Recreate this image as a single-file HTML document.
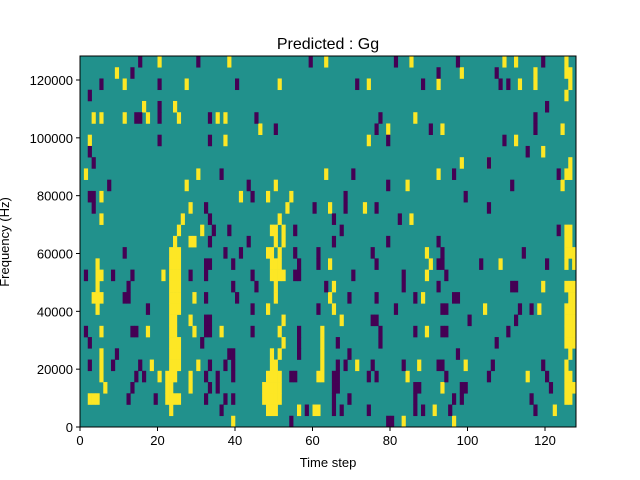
<!DOCTYPE html>
<html><head><meta charset="utf-8"><style>
body{margin:0;background:#fff;}
svg{display:block;font-family:"Liberation Sans","DejaVu Sans",sans-serif;}
</style></head><body>
<svg id="chart" width="640" height="480" viewBox="0 0 640 480" xmlns="http://www.w3.org/2000/svg">
<rect x="0" y="0" width="640" height="480" fill="#fff"/>
<g id="cells"></g>
<g id="axes"></g>
<text x="328" y="49" font-size="16" text-anchor="middle">Predicted : Gg</text>
<text x="328" y="467" font-size="13" text-anchor="middle">Time step</text>
<text x="0" y="0" font-size="13" text-anchor="middle" transform="translate(9,242) rotate(-90)">Frequency (Hz)</text>
</svg>
<script>
const nCols = 128;
const nRows = 33;
const yMax = 128300;
const xTicks = [0,20,40,60,80,100,120];
const yTicks = [0,20000,40000,60000,80000,100000,120000];
// rows indexed from top (row 0 = highest frequency)
const yellowByRow = [
[20,38,63,85,109,112,125],[9,98,117,125,126],[11,27,51,74,92,113,117,126],[125],[16,24],
[3,5,11,17,25,35,37,86],[46,79,93,124],[2,37,74,112],[119],[98,105,126],
[1,30,63,92,125,126],[27,50,84,124],[5,41,48,54],[28,53,64,73],[5,26,51,85],
[25,31,49,50,52,125,126],[24,28,29,50,52,125,126],[23,24,25,48,49,51,89,125,126,127],[4,23,24,25,49,50,51,64,90,108,125,127],[4,5,21,23,24,25,49,50,51,52,89],
[4,23,24,25,50,65,119,125,126,127],[3,4,5,23,24,25,29,50,64,88,126,127],[4,23,24,25,48,65,104,118,125,126,127],[23,24,28,52,67,125,126,127],[5,17,23,24,29,36,51,62,89,125,126,127],
[23,24,25,52,62,125,126,127],[5,23,24,25,49,51,62,126],[5,18,23,24,25,30,49,50,62,71,87,99,125],[5,20,22,23,24,28,48,49,50,51,61,62,84,115,125,126],[6,22,23,28,47,48,49,50,51,93,125,126,127],
[2,3,4,22,23,24,25,47,48,49,50,51,125,126],[23,48,49,50,56,60,61,91,122],[39,83,96]
];
const purpleByRow = [
[15,30,59,81,97,119],[13,92,107],[5,20,40,71,88,108,110],[2],[20,120],
[14,15,20,33,45,77,117],[50,76,90,117],[20,33,79,109],[2,115],[3,105],
[36,70,96,123],[7,43,79,111],[2,3,44,68,99],[3,32,60,68,76,105],[33,65,82],
[34,38,55,67,123],[33,43,65,79,92],[11,37,41,55,61,75,93,114],[32,33,39,56,61,76,92,93,103,120],[1,8,13,28,32,44,55,56,70,83,94],
[12,39,45,63,83,92,111,112],[11,12,32,40,69,76,86,96,97],[17,44,61,81,93,94,113,116],[32,33,75,76,100,112],[1,13,14,32,33,44,56,77,86,93,94,110],
[2,31,56,66,77,107],[9,38,39,56,69,97],[2,8,15,33,37,39,66,68,75,83,92,93,106,119],[14,16,32,35,39,54,55,65,66,74,76,94,105,120],[13,33,35,65,66,86,87,98,99,121],
[12,19,32,37,39,65,69,86,96,98,116],[36,58,65,67,74,86,88,95,117],[54,79,80]
];
const colors = {low:"#440154", mid:"#21918c", high:"#fde725"};
const L=80,R=576,T=56,B=427;
const xScale = v => L + (R-L)*v/nCols;
const yScale = v => B - (B-T)*v/yMax;
const rowH = yMax/nRows;
const NS="http://www.w3.org/2000/svg";
const cells=document.getElementById('cells');
const bg=document.createElementNS(NS,'rect');
bg.setAttribute('x',L);bg.setAttribute('y',T);bg.setAttribute('width',R-L);bg.setAttribute('height',B-T);bg.setAttribute('fill',colors.mid);


cells.appendChild(bg);
function drawCells(byRow,color,name){
  byRow.forEach((cols,r)=>{
    const bin = nRows-1-r;
    cols.forEach(c=>{
      const el=document.createElementNS(NS,'rect');
      const x0=xScale(c),x1=xScale(c+1),y1=yScale(bin*rowH),y0=yScale((bin+1)*rowH);
      el.setAttribute('x',x0);el.setAttribute('y',y0);
      el.setAttribute('width',x1-x0+0.3);el.setAttribute('height',y1-y0+0.3);
      el.setAttribute('fill',color);
      
      
      cells.appendChild(el);
    });
  });
}
drawCells(yellowByRow,colors.high,'cell-high');
drawCells(purpleByRow,colors.low,'cell-low');
const axes=document.getElementById('axes');
const frame=document.createElementNS(NS,'rect');
frame.setAttribute('x',L);frame.setAttribute('y',T);frame.setAttribute('width',R-L);frame.setAttribute('height',B-T);
frame.setAttribute('fill','none');frame.setAttribute('stroke','#000');frame.setAttribute('stroke-width','1');


axes.appendChild(frame);
xTicks.forEach(t=>{
  const x=xScale(t);
  const ln=document.createElementNS(NS,'line');
  ln.setAttribute('x1',x);ln.setAttribute('x2',x);ln.setAttribute('y1',B);ln.setAttribute('y2',B+4);ln.setAttribute('stroke','#000');
  
  
  axes.appendChild(ln);
  const tx=document.createElementNS(NS,'text');
  tx.setAttribute('x',x);tx.setAttribute('y',B+18);tx.setAttribute('font-size','13');tx.setAttribute('text-anchor','middle');
  tx.textContent=t;
  
  
  axes.appendChild(tx);
});
yTicks.forEach(t=>{
  const y=yScale(t);
  const ln=document.createElementNS(NS,'line');
  ln.setAttribute('x1',L-4);ln.setAttribute('x2',L);ln.setAttribute('y1',y);ln.setAttribute('y2',y);ln.setAttribute('stroke','#000');
  
  
  axes.appendChild(ln);
  const tx=document.createElementNS(NS,'text');
  tx.setAttribute('x',L-7);tx.setAttribute('y',y+5);tx.setAttribute('font-size','13');tx.setAttribute('text-anchor','end');
  tx.textContent=t;
  
  
  axes.appendChild(tx);
});
</script>
</body></html>
